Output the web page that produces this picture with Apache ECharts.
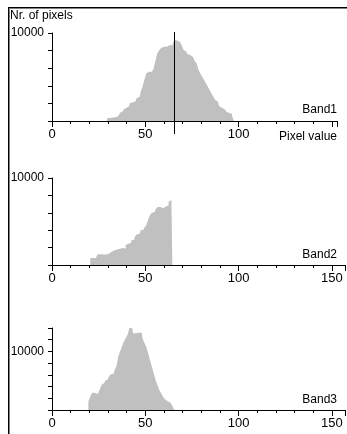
<!DOCTYPE html>
<html>
<head>
<meta charset="utf-8">
<script src="https://cdn.jsdelivr.net/npm/echarts@6/dist/echarts.min.js"></script>
<style>
html,body{margin:0;padding:0;background:#fff;}
#chart{width:347px;height:434px;}
</style>
</head>
<body>
<div id="chart"></div>
<script>
// ---- data (bin centres are integer pixel values) ----
const band1Start = 30;
const band1Counts = [300,350,400,420,430,570,700,950,1100,1330,1500,1700,2000,2100,2200,2390,2600,2760,3330,3900,4660,5420,5600,5600,5650,5980,6930,7690,8070,8300,8440,8450,8450,8600,8640,8700,9200,9150,9000,8820,8600,8070,7900,7600,7500,7300,7120,6800,6550,5790,5400,5040,4650,4280,3900,3520,3100,2760,2400,2200,1700,1500,1330,1150,1060,900,800,570];
const band2Start = 21;
const band2Counts = [800,800,810,830,1230,1230,1220,1190,1200,1280,1500,1520,1700,1760,1780,1880,1950,1960,1900,2300,2450,2600,2840,2900,3300,3530,3600,3990,4050,4300,4560,5200,5710,6020,6100,6400,6670,6670,6550,6480,6700,6860,7300,7440];
const band3Start = 20;
const band3Counts = [1430,2280,2960,2960,2740,2800,3420,4280,4600,5000,5250,5700,6100,6200,6840,7410,9120,9980,10830,11680,12250,12830,14000,14000,13100,13100,13200,13220,13220,12250,11500,10800,9690,8550,7410,6270,5130,4280,3420,2850,2280,1830,1500,1250,1030,680];
const bandNames = ['Band1','Band2','Band3'];
const yMaxes = [10000, 10000, 14000];
const xMaxes = [153, 157, 157];
const xLabelStep = 50;
const yLabelValue = 10000;
const cursorValue = [65.4];

const FONT = '"Liberation Sans", Arial, sans-serif';
const GRAY = '#c0c0c0';

function histPoints(start, counts) {
  const pts = [[start - 0.5, counts[0]]];
  counts.forEach((c, i) => pts.push([start + i, c]));
  pts.push([start + counts.length - 0.5, counts[counts.length - 1]]);
  return pts;
}

const PX_PER_UNIT = 1.866;
const grids = [
  {left: 52, top: 33, height: 88},
  {left: 52, top: 178, height: 87},
  {left: 52, top: 328, height: 82}
].map((g, i) => Object.assign(g, {width: xMaxes[i] * PX_PER_UNIT, outerBoundsMode: 'none', containLabel: false}));

const xAxes = grids.map((g, i) => ({
  type: 'value', gridIndex: i, min: 0, max: xMaxes[i], interval: xLabelStep,
  axisLine: {show: true, onZero: false, lineStyle: {color: '#000', width: 1}},
  axisTick: {show: true, length: 6, lineStyle: {color: '#000'}},
  minorTick: {show: true, splitNumber: 5, length: 3, lineStyle: {color: '#000'}},
  splitLine: {show: false}, minorSplitLine: {show: false},
  axisLabel: {
    show: true, color: '#000', fontSize: 13, fontFamily: FONT, margin: 7,
    hideOverlap: false,
    formatter: v => {
      if (v % xLabelStep !== 0) return '';
      if (i === 0 && v === 150) return '';
      return String(v);
    }
  }
}));

const yAxes = grids.map((g, i) => ({
  type: 'value', gridIndex: i, min: 0, max: yMaxes[i], interval: 2000,
  axisLine: {show: true, onZero: false, lineStyle: {color: '#000', width: 1}},
  axisTick: {show: true, length: 4, lineStyle: {color: '#000'}},
  splitLine: {show: false},
  axisLabel: {
    show: true, color: '#000', fontSize: 12, fontFamily: FONT, margin: 8,
    formatter: v => v === yLabelValue ? String(yLabelValue) : ''
  }
}));

const allCounts = [[band1Start, band1Counts],[band2Start, band2Counts],[band3Start, band3Counts]];
const series = allCounts.map(([s, c], i) => ({
  type: 'line', xAxisIndex: i, yAxisIndex: i, step: 'middle',
  data: histPoints(s, c), symbol: 'none', silent: true,
  lineStyle: {width: 0, color: GRAY, opacity: 0},
  areaStyle: {color: GRAY, opacity: 1},
  animation: false
}));

const tStyle = {fontSize: 12, fontWeight: 'normal', color: '#000', fontFamily: FONT};
const titles = [
  {text: 'Nr. of pixels', left: 10, top: 10, padding: 0, textStyle: tStyle},
  {text: bandNames[0], right: 10, top: 104, padding: 0, textStyle: tStyle},
  {text: 'Pixel value', right: 10, top: 131, padding: 0, textStyle: tStyle},
  {text: bandNames[1], right: 10, top: 249, padding: 0, textStyle: tStyle},
  {text: bandNames[2], right: 10, top: 394, padding: 0, textStyle: tStyle}
];

const chart = echarts.init(document.getElementById('chart'), null, {renderer: 'canvas'});
chart.setOption({
  animation: false,
  backgroundColor: '#fff',
  textStyle: {fontFamily: FONT},
  title: titles,
  grid: grids,
  xAxis: xAxes,
  yAxis: yAxes,
  series: series
});

// frame and cursor line, positioned through the chart's own scales
const top1 = chart.convertToPixel({gridIndex: 0}, [cursorValue[0], yMaxes[0]]);
const base1 = chart.convertToPixel({gridIndex: 0}, [cursorValue[0], 0]);
const cx = Math.round(top1[0]) + 0.5;
chart.setOption({
  graphic: [
    {type: 'line', shape: {x1: 9, y1: 7.5, x2: 347, y2: 7.5}, style: {stroke: '#000', lineWidth: 1}, silent: true},
    {type: 'line', shape: {x1: 10, y1: 8.5, x2: 347, y2: 8.5}, style: {stroke: '#808080', lineWidth: 1}, silent: true},
    {type: 'line', shape: {x1: 8.5, y1: 7, x2: 8.5, y2: 434}, style: {stroke: '#000', lineWidth: 1}, silent: true},
    {type: 'line', shape: {x1: 9.5, y1: 8, x2: 9.5, y2: 434}, style: {stroke: '#808080', lineWidth: 1}, silent: true},
    {type: 'line', shape: {x1: cx, y1: top1[1] - 1, x2: cx, y2: base1[1] + 13}, style: {stroke: '#000', lineWidth: 1}, silent: true, z: 100}
  ]
});
</script>
</body>
</html>
